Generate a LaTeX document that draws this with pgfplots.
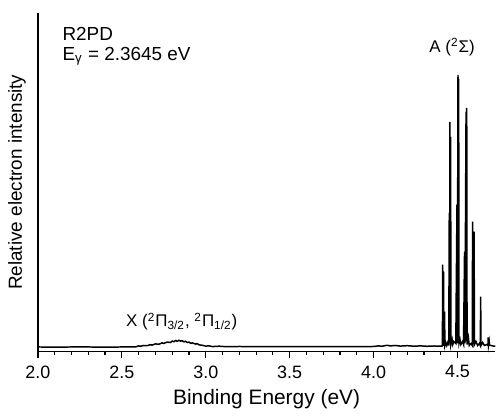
\documentclass[border=0pt]{standalone}
\usepackage{fontspec}
\setmainfont{Liberation Sans}
\usepackage{pgfplots}
\pgfplotsset{compat=1.18}

\pgfplotstableread{
x y
2.00 4.5
2.10 4.4
2.20 4.5
2.30 4.5
2.40 4.4
2.50 4.5
2.56 4.6
2.58 4.5
2.60 5.6
2.61 5.2
2.63 6.0
2.65 5.8
2.67 6.8
2.68 6.4
2.70 7.6
2.72 7.2
2.74 8.6
2.75 8.1
2.77 9.4
2.79 9.0
2.80 10.4
2.81 9.8
2.82 11.0
2.83 10.2
2.84 11.2
2.85 10.4
2.86 10.8
2.87 9.6
2.88 10.2
2.89 9.0
2.90 9.4
2.91 8.2
2.92 8.6
2.94 7.4
2.95 7.8
2.96 6.6
2.98 6.2
3.00 5.4
3.02 5.6
3.04 4.9
3.08 5.3
3.12 4.8
3.20 5.0
3.30 4.8
3.40 4.9
3.50 4.8
3.60 4.9
3.70 4.8
3.80 4.9
3.90 4.8
4.00 5.0
4.03 5.6
4.05 5.2
4.08 6.2
4.10 5.6
4.13 6.0
4.16 5.4
4.20 5.8
4.24 5.3
4.28 5.6
4.32 5.2
4.36 5.5
4.40 5.3
4.410 5.5
4.412 87
4.414 5.5
4.417 80
4.419 6
4.423 40
4.425 6
4.430 9
4.436 6
4.444 10
4.448 6
4.451 139
4.453 8
4.455 230
4.457 8
4.459 215
4.461 7
4.468 12
4.472 7
4.478 10
4.490 8
4.497 147
4.499 8
4.503 277
4.505 10
4.507 273
4.509 8
4.515 12
4.520 7
4.530 10
4.536 7
4.542 100
4.544 8
4.551 240
4.553 10
4.555 244
4.557 7
4.565 14
4.570 6
4.580 8
4.588 6
4.590 130
4.592 7
4.599 120
4.601 7
4.610 10
4.620 6
4.630 8
4.636 6
4.638 55
4.640 6
4.650 9
4.660 6
4.675 7
4.682 6
4.683 14
4.685 6
4.689 10
4.691 6
4.700 6
4.710 5.5
4.725 5.4
}\spec

\begin{document}
\begin{tikzpicture}
\begin{axis}[
  name=ax,
  scale only axis,
  width=229bp, height=169.5bp,
  xmin=2.0, xmax=4.725,
  ymin=0, ymax=339,
  axis lines*=left,
  axis line style={line width=0.7pt},
  xtick={2.0,2.5,3.0,3.5,4.0,4.5},
  minor x tick num=4,
  ytick=\empty,
  tick align=outside,
  major tick length=3.5bp,
  minor tick length=2bp,
  tick style={line width=0.6pt, black},
  xticklabel style={/pgf/number format/fixed, /pgf/number format/fixed zerofill, /pgf/number format/precision=1},
  /pgf/number format/assume math mode=true,
  tick label style={font=\fontsize{9}{10}\selectfont},
  xlabel style={font=\fontsize{10.5}{12}\selectfont, yshift=1bp},
  ylabel style={font=\fontsize{9.5}{12}\selectfont, yshift=-1bp},
  xlabel={Binding Energy (eV)},
  ylabel={Relative electron intensity},
  clip=false,
]
\addplot[black, line width=0.75pt] table[x=x, y=y] {\spec};
\node[anchor=west, font=\fontsize{9.5}{10}\selectfont] at (axis cs:2.105,318) {R2PD};
\node[anchor=west, font=\fontsize{9.5}{10}\selectfont] at (axis cs:2.105,296) {E\textsubscript{γ} = 2.3645 eV};
\node[font=\fontsize{8.5}{10}\selectfont] at (axis cs:4.468,305) {A (\textsuperscript{2}Σ)};
\node[font=\fontsize{8.5}{10}\selectfont] at (axis cs:2.857,30) {X (\textsuperscript{2}Π\textsubscript{3/2}, \textsuperscript{2}Π\textsubscript{1/2})};
\end{axis}
\path ([yshift=6.5bp]ax.north west) coordinate (tp) ([xshift=-19bp]ax.south west) coordinate (lp);
\end{tikzpicture}
\end{document}
